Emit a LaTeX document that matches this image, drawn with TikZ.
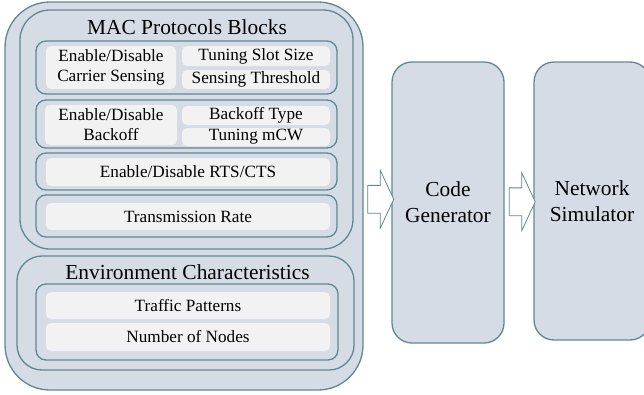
\documentclass[tikz,border=0pt]{standalone}
\usepackage{fontspec}
\setmainfont{Liberation Serif}
\usepackage{tikz}
\usetikzlibrary{shapes.arrows, calc}
\definecolor{panel}{HTML}{D6DCE5}
\definecolor{edge}{HTML}{5F8895}
\definecolor{cellgray}{HTML}{F2F2F2}
\newcommand{\cellfont}{\fontsize{17.2}{20}\selectfont}
\newcommand{\headfont}{\fontsize{21.4}{26}\selectfont}
\begin{document}
\begin{tikzpicture}[x=1pt, y=-1pt,
		dims/.style 2 args={minimum width=#1, minimum height=#2},
		box/.style={draw=edge, fill=panel, line width=1.3pt, inner sep=0pt},
		cell/.style={fill=cellgray, rounded corners=5pt, inner sep=0pt, align=center, font=\cellfont},
		head/.style={inner sep=0pt, align=center, font=\headfont},
		blockarrow/.style={shape=single arrow, draw=edge, fill=white, line width=0.8pt, inner xsep=0pt, inner ysep=13.5pt, minimum height=26pt, single arrow head extend=15pt, single arrow tip angle=130}]
			\useasboundingbox (0,0) rectangle (644,394);
			\node[box, dims={358}{388}, rounded corners=45pt] (outer) at (184,196){};
			\node[box, dims={333}{239}, rounded corners=30pt] (mac) at (186.5,129.5){};
			\node[head] (mactitle) at (187,27){MAC Protocols Blocks};
			\node[box, dims={301}{53}, rounded corners=10pt] (carrier) at (186.5,67.5){};
			\node[cell, dims={130}{43}] (cs) at (111,67.5){Enable/Disable\\Carrier Sensing};
			\node[cell, dims={148}{20}] (slot) at (256,56){Tuning Slot Size};
			\node[cell, dims={148}{19}] (thresh) at (256,79.5){Sensing Threshold};
			\node[box, dims={301}{48}, rounded corners=10pt] (backoff) at (186.5,124){};
			\node[cell, dims={132}{40}] (bo) at (111,125){Enable/Disable\\Backoff};
			\node[cell, dims={148}{19}] (botype) at (256,115.5){Backoff Type};
			\node[cell, dims={148}{18}] (mcw) at (256,137){Tuning mCW};
			\node[box, dims={301}{37}, rounded corners=10pt] (rts) at (186.5,171.5){};
			\node[cell, dims={284}{28}] (rtscts) at (188,172){Enable/Disable RTS/CTS};
			\node[box, dims={301}{42}, rounded corners=10pt] (rate) at (186.5,216){};
			\node[cell, dims={284}{27}] (txrate) at (188,216.5){Transmission Rate};
			\node[box, dims={337}{114}, rounded corners=25pt] (env) at (185.5,313){};
			\node[head] (envtitle) at (187.5,272){Environment Characteristics};
			\node[box, dims={302}{76}, rounded corners=10pt] (envin) at (187,322){};
			\node[cell, dims={284}{27}] (traffic) at (188,305.5){Traffic Patterns};
			\node[cell, dims={284}{28}] (nodes) at (188,337){Number of Nodes};
			\node[box, dims={112}{281}, rounded corners=20pt, font=\headfont, align=center] (gen) at (448,202.5){Code\\Generator};
			\node[box, dims={116}{278}, rounded corners=20pt, font=\headfont, align=center, text width=108pt] (sim) at (592,201){Network\\Simulator};
			\node[blockarrow] (arrA) at ($(outer.east)!0.5!(gen.west)$){};
			\node[blockarrow] (arrB) at ($(gen.east)!0.5!(sim.west)$){};
		\end{tikzpicture}
\end{document}
